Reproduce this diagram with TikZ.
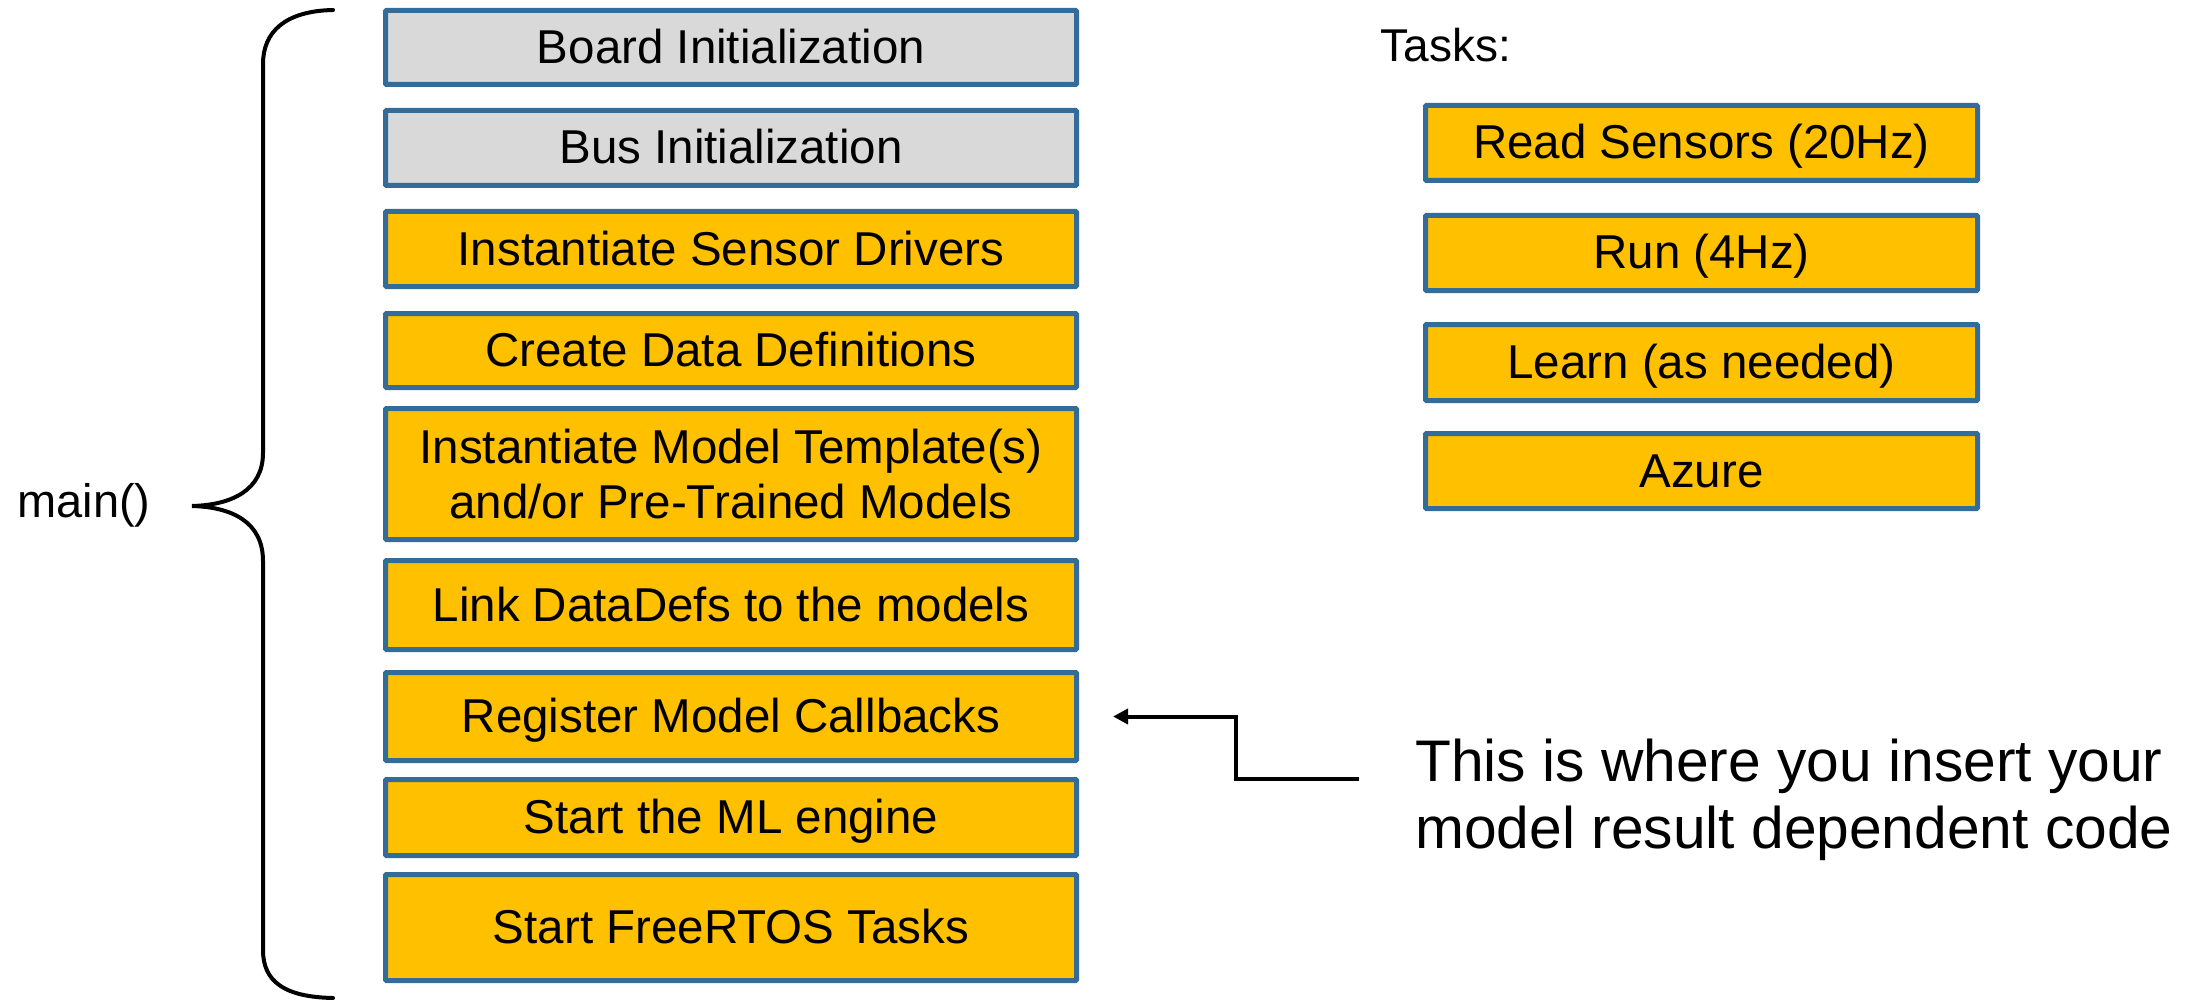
\documentclass[tikz,border=0pt]{standalone}
\usepackage{fontspec}
\setmainfont{Liberation Sans}
\usetikzlibrary{arrows.meta}
\definecolor{boxline}{RGB}{51,107,153}
\definecolor{boxgray}{RGB}{217,217,217}
\definecolor{boxgold}{RGB}{255,192,0}
\tikzset{
  stepbox/.style={draw=boxline, line width=2.5pt, fill=boxgold, rounded corners=0.5pt,
    minimum width=345.5pt, inner sep=0pt, align=center,
    font=\fontsize{23.75pt}{27.5pt}\selectfont},
  oneline/.style={text height=18pt, text depth=2pt},
  initbox/.style={stepbox, oneline, fill=boxgray},
  taskbox/.style={stepbox, oneline, minimum width=276pt},
  pointer/.style={line width=2pt, -{Triangle[length=7.5pt,width=7.5pt]}},
  bracestyle/.style={line width=2pt, line cap=round}
}
\begin{document}
\begin{tikzpicture}[x=0.5pt, y=-0.5pt]
\useasboundingbox (0,0) rectangle (2193,1000);

% main() sequence
\node[initbox, minimum height=37pt]            (b1) at (731,47.5)  {Board Initialization};
\node[initbox, minimum height=37.5pt]          (b2) at (731,148)   {Bus Initialization};
\node[stepbox, oneline, minimum height=37.5pt] (b3) at (731,249)   {Instantiate Sensor Drivers};
\node[stepbox, oneline, minimum height=37pt]   (b4) at (731,350.5) {Create Data Definitions};
\node[stepbox, minimum height=65.5pt]          (b5) at (731,474)   {Instantiate Model Template(s)\\and/or Pre-Trained Models};
\node[stepbox, oneline, minimum height=44.5pt] (b6) at (731,605)   {Link DataDefs to the models};
\node[stepbox, oneline, minimum height=44pt]   (b7) at (731,716.5) {Register Model Callbacks};
\node[stepbox, oneline, minimum height=38pt]   (b8) at (731,817.5) {Start the ML engine};
\node[stepbox, oneline, minimum height=53pt]   (b9) at (731,927.5) {Start FreeRTOS Tasks};

% brace grouping the sequence
\draw[bracestyle] (333,10) .. controls (285,11) and (263,32) .. (263,64)
  -- (263,453) .. controls (263,490) and (232,505) .. (192,506)
  .. controls (232,507) and (263,522) .. (263,561)
  -- (263,950) .. controls (263,982) and (285,997) .. (333,998);
\node[anchor=west, inner sep=0pt, font=\fontsize{23.5pt}{27pt}\selectfont] (mainlbl) at (17,505) {main()};

% task list
\node[anchor=west, inner sep=0pt, font=\fontsize{23pt}{27pt}\selectfont] (tasks) at (1380,45) {Tasks:};
\node[taskbox, minimum height=37.5pt] (t1) at (1701.5,143)   {Read Sensors (20Hz)};
\node[taskbox, minimum height=37.5pt] (t2) at (1701.5,253)   {Run (4Hz)};
\node[taskbox, minimum height=38pt]   (t3) at (1701.5,362.5) {Learn (as needed)};
\node[taskbox, minimum height=37.5pt] (t4) at (1701.5,471)   {Azure};

% note and its pointer
\node[anchor=west, inner sep=0pt, align=left, font=\fontsize{29.35pt}{33.5pt}\selectfont] (note) at (1415,800)
  {This is where you insert your\\model result dependent code};
\coordinate (nstart) at (1359,779);
\draw[pointer, shorten >=17pt] (nstart) -- (1236,779) |- (b7.east);
\end{tikzpicture}
\end{document}
